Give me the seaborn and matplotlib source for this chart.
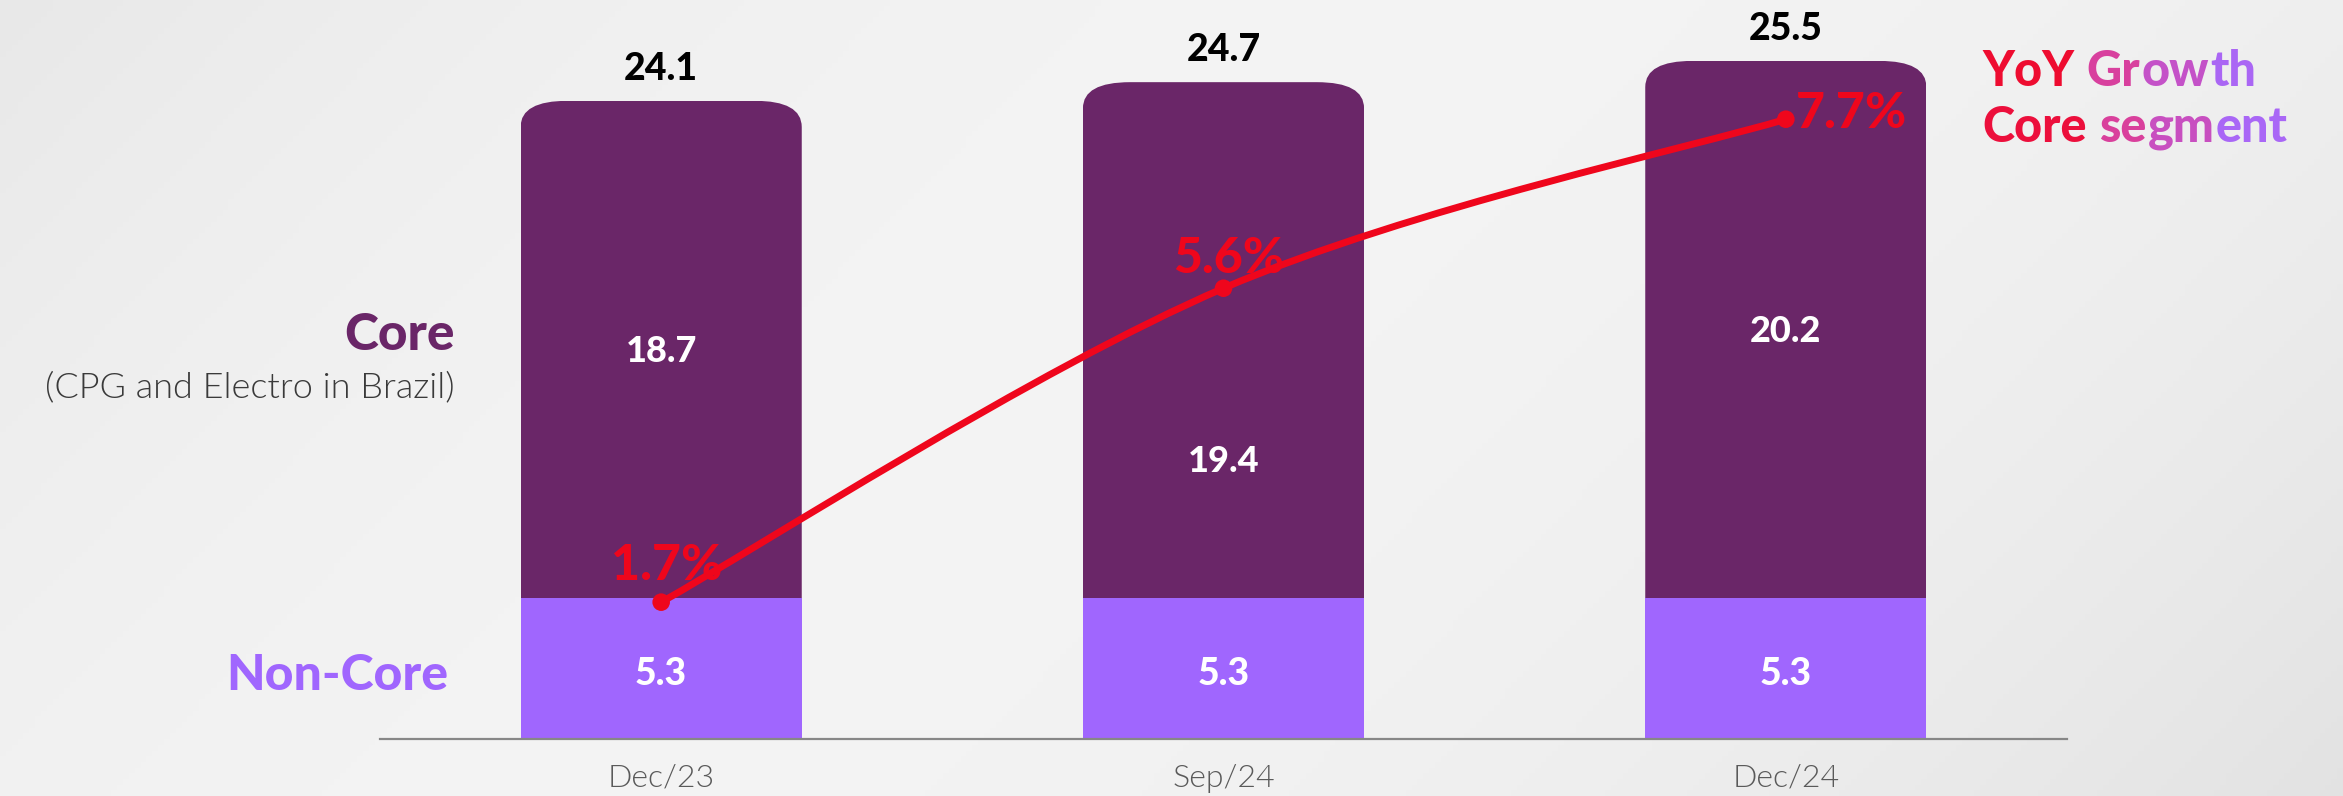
import numpy as np
import pandas as pd
import matplotlib.pyplot as plt
import seaborn as sns
from matplotlib import font_manager
from matplotlib.patches import FancyBboxPatch, PathPatch
from matplotlib.path import Path
from matplotlib.ticker import FixedLocator

periods = ["Dec/23", "Sep/24", "Dec/24"]
core = [18.7, 19.4, 20.2]
non_core = [5.3, 5.3, 5.3]
totals = [24.1, 24.7, 25.5]
yoy_growth = [1.7, 5.6, 7.7]

CORE = "#6A2668"
NONCORE = "#A066FE"
RED = "#EF061C"


def heaviest_font(candidates):
    # pick the first family that has a really heavy cut installed
    found = {}
    for f in font_manager.fontManager.ttflist:
        w = f.weight
        if isinstance(w, str):
            w = font_manager.weight_dict.get(w, 400)
        if f.name in candidates and f.style == "normal":
            found[f.name] = max(found.get(f.name, 0), w)
    for name in candidates:
        if found.get(name, 0) >= 800:
            return name, found[name]
    name = max(found, key=found.get) if found else "DejaVu Sans"
    return name, found.get(name, 700)


HEAVY, HEAVY_W = heaviest_font(["Lato", "Inter", "Roboto", "Open Sans", "Noto Sans"])

df = pd.DataFrame({"period": periods, "core": core, "non_core": non_core})
df["stack_top"] = df["non_core"] + df["core"]

sns.set_theme(style="white")
plt.rcParams["font.family"] = ["Lato", "DejaVu Sans"]
heavy = dict(family=[HEAVY, "DejaVu Sans"], fontweight=HEAVY_W)

fig = plt.figure(figsize=(23.43, 7.96), dpi=100)

# soft grey background, darker at the corners
bg = fig.add_axes([0, 0, 1, 1], zorder=-10)
gx, gy = np.meshgrid(np.linspace(0, 1, 400), np.linspace(0, 1, 140))
u = gx * 0.75 + gy * 0.25
shade = 0.955 - 0.22 * (u - 0.45) ** 2
bg.imshow(np.dstack([shade, shade, shade]), aspect="auto", extent=(0, 1, 0, 1), origin="upper")
bg.set_axis_off()

ax = fig.add_axes([380 / 2343, 57 / 796, 1687 / 2343, 718 / 796])
ax.set_facecolor("none")

sns.barplot(data=df, x="period", y="stack_top", color=CORE, width=0.5,
            saturation=1, linewidth=0, ax=ax)
core_bars = list(ax.patches)
sns.barplot(data=df, x="period", y="non_core", color=NONCORE, width=0.5,
            saturation=1, linewidth=0, ax=ax)

ax.set_xlim(-0.5, 2.5)
ax.set_ylim(0, 27)

# rounded top corners on the core bars
for p in core_bars:
    box = FancyBboxPatch((p.get_x(), 0), p.get_width(), p.get_height(),
                         boxstyle="round,pad=0,rounding_size=0.084",
                         mutation_aspect=11.7, transform=ax.transData)
    p.set_clip_path(box)

# value labels
core_shift = [0, -86, 0]
for i in range(len(periods)):
    ax.annotate(f"{totals[i]:.1f}", xy=(i, non_core[i] + core[i]), xytext=(0, 15),
                textcoords="offset points", ha="center", va="baseline",
                fontsize=27, color="black", **heavy)
    ax.annotate(f"{core[i]:.1f}", xy=(i, non_core[i] + core[i] / 2),
                xytext=(0, -9 + core_shift[i]), textcoords="offset points",
                ha="center", va="baseline", fontsize=26, color="white", **heavy)
    ax.annotate(f"{non_core[i]:.1f}", xy=(i, non_core[i] / 2), xytext=(0, -12),
                textcoords="offset points", ha="center", va="baseline",
                fontsize=27, color="white", **heavy)

sns.despine(ax=ax, left=True)
ax.spines["bottom"].set_color("#878787")
ax.spines["bottom"].set_linewidth(1.6)
ax.set_yticks([])
ax.set_xlabel("")
ax.set_ylabel("")
ax.xaxis.set_minor_locator(FixedLocator([-0.5, 2.5]))
ax.tick_params(axis="x", which="minor", length=7.5, width=1.6, color="#878787", direction="out")
ax.tick_params(axis="x", which="major", length=0, pad=18, labelsize=23, labelcolor="#5A5A5A")
for t in ax.get_xticklabels():
    t.set_fontweight(300)

# YoY growth line on its own scale
ax2 = ax.twinx()
ax2.set_ylim(0, 8.92)
xs = np.arange(len(periods))
pts = np.column_stack([xs, yoy_growth]).astype(float)
ext = np.vstack([pts[0], pts, pts[-1]])
verts = [pts[0]]
codes = [Path.MOVETO]
for i in range(len(pts) - 1):
    p0, p1, p2, p3 = ext[i], ext[i + 1], ext[i + 2], ext[i + 3]
    verts += [p1 + (p2 - p0) / 6, p2 - (p3 - p1) / 6, p2]
    codes += [Path.CURVE4] * 3
ax2.add_patch(PathPatch(Path(verts, codes), facecolor="none", edgecolor=RED,
                        linewidth=5, capstyle="round", zorder=4))
sns.scatterplot(x=xs, y=yoy_growth, color=RED, s=160, edgecolor="none", zorder=5, ax=ax2)

pct_offsets = [(4, 16, "center"), (4, 11, "center"), (7, -6.5, "left")]
for i, (dx, dy, ha) in enumerate(pct_offsets):
    ax2.annotate(f"{yoy_growth[i]:.1f}%", xy=(i, yoy_growth[i]), xytext=(dx, dy),
                 textcoords="offset points", ha=ha, va="baseline",
                 fontsize=36, color=RED, zorder=6, **heavy)

for s in ax2.spines.values():
    s.set_visible(False)
ax2.set_yticks([])
ax2.set_ylabel("")
ax.set_xlim(-0.5, 2.5)

# side labels
fig.text(455 / 2343, 1 - 350 / 796, "Core", ha="right", va="baseline",
         fontsize=37, color=CORE, **heavy)
fig.text(455 / 2343, 1 - 397 / 796, "(CPG and Electro in Brazil)", ha="right",
         va="baseline", fontsize=26, fontweight=300, color="#3A3A3A")
fig.text(448 / 2343, 1 - 690 / 796, "Non-Core", ha="right", va="baseline",
         fontsize=36, color=NONCORE, **heavy)

# legend text, red fading to purple in small chunks
legend_lines = [
    (94, [("YoY", "#EE0C30", 0), ("Gr", "#D8409E", 9), ("ow", "#C452C8", 1), ("th", "#AA66F4", 1)]),
    (150, [("Core", "#EC0F3C", 0), ("se", "#D9409C", 9), ("gm", "#C84FC0", 1),
           ("ent", "#A967F6", 1)]),
]
for base_y, chunks in legend_lines:
    prev = fig.text(1982 / 2343, 1 - base_y / 796, chunks[0][0], ha="left", va="bottom",
                    fontsize=35, color=chunks[0][1], **heavy)
    for word, col, gap in chunks[1:]:
        prev = ax.annotate(word, xy=(1, 0), xycoords=prev, xytext=(gap, 0),
                           textcoords="offset points", ha="left", va="bottom",
                           fontsize=35, color=col, annotation_clip=False, **heavy)

fig.savefig("out.png", dpi=100)
